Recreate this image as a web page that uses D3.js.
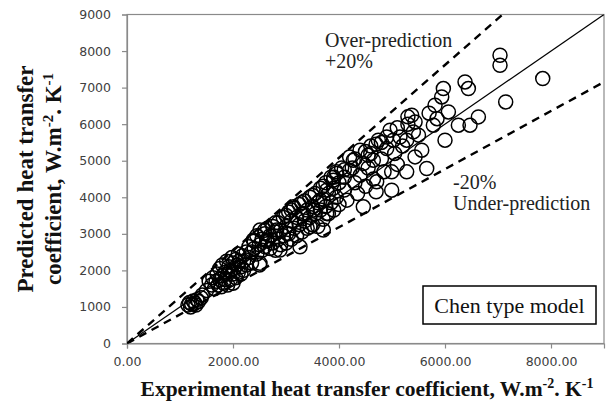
<!DOCTYPE html>
<html><head><meta charset="utf-8">
<script src="https://cdn.jsdelivr.net/npm/d3@7"></script>
<style>body{margin:0;background:#fff}</style>
</head><body>
<svg id="c" width="609" height="403"></svg>
<script>
const xTicks = [0, 2000, 4000, 6000, 8000];
const yTicks = [0, 1000, 2000, 3000, 4000, 5000, 6000, 7000, 8000, 9000];
const lineFactors = {perfect: 1, over: 1.27, under: 0.795};
const experimental = [
1150,1180,1220,1250,1280,1320,1350,1300,1200,1400,1420,
1500,1550,1600,1620,1650,1680,1700,1720,1750,1750,1780,1800,1800,1820,1850,1850,1880,1900,1900,1920,1950,1950,1980,2000,2000,2000,2020,2050,2050,2080,2100,2100,2120,2150,2150,2180,2200,2200,2250,2250,2300,2300,2350,2350,2400,2400,2450,2450,2500,2500,2550,2550,2600,2600,2650,2650,2700,2700,2750,2750,
2800,2800,2850,2850,2900,2900,2950,2950,3000,3000,3050,3050,3100,3100,3150,3150,3200,3200,3250,3250,3300,3300,3350,3350,3400,3400,3450,3450,3500,3500,3550,3550,3600,3600,3650,3650,3700,3700,3750,3750,3800,3800,3850,3850,3900,3900,3950,3950,4000,4000,
3264,2887,3013,3327,3138,2824,2636,2510,2384,2510,3453,3704,3516,3768,3642,3768,3893,3957,
4050,4100,4150,4200,4270,4300,4350,4397,4400,4459,4459,4500,4550,4600,4648,4650,4700,4711,4742,4800,4850,4900,4963,4994,4994,5025,5050,5100,5150,5200,5277,5277,5300,5372,5403,5435,5435,5500,5561,5655,4100,4250,4550,4800,
5780,5812,5938,5969,6000,6064,6252,6378,6441,6472,6630,7038,7038,7145,7844,5700,5850,
2600,2800,3000,3100,3300,3500,3700,3900,4100,4200,4300,4500,4600,4700,4900,5100,5300];
const predicted = [
1050,1120,1080,1160,1100,1200,1150,1050,1000,1250,1330,
1450,1700,1600,1800,1500,1700,1900,1600,1750,2050,1550,1850,2150,1650,1950,1750,2250,1600,1900,2100,1750,2000,2350,1650,1900,2200,2050,1800,2300,2150,1950,2450,2250,1900,2100,2400,2250,2000,2500,2150,2350,2650,2200,2500,2800,2600,2450,2950,2700,2150,2850,2550,3000,2650,2800,3150,2600,2950,3200,2750,
3050,2550,3300,2850,3100,2700,3450,2950,3200,2750,3600,3000,3350,2850,3700,3150,3450,2950,3800,3250,3550,3050,3900,3350,3650,3150,4000,3450,3750,3250,4100,3550,3850,3200,4250,3650,3950,3400,4400,3750,4100,3550,4550,3850,4250,3650,4700,4000,4400,3800,
2645,2555,3012,3558,3739,3102,2829,2192,2829,3102,3192,3102,3649,3558,3922,4195,4468,4652,
4800,4200,3922,4742,5015,4400,4100,5288,4600,4925,3739,4300,4800,5200,5015,4500,4150,4422,5562,5050,4700,5335,5835,4695,4195,5562,5200,4900,5650,5400,5562,4695,6000,6245,5789,6062,5105,5700,5288,4788,4550,4800,5150,5500,
5972,6518,6745,6974,5562,6335,5972,7155,6974,5972,6199,7885,7612,6609,7247,6300,6150,
3100,3300,3500,3650,3850,4050,4300,4550,4750,5100,5050,5250,5400,5450,5650,5900,6200];

const svg = d3.select('#c');
const m = {l:127, r:604, t:14.5, b:343.5};
const x = d3.scaleLinear().domain([0,9000]).range([m.l, m.r]);
const y = d3.scaleLinear().domain([0,9000]).range([m.b, m.t]);
const axisColor = '#8a8a8a';

svg.append('rect').attr('x',m.l).attr('y',m.t).attr('width',m.r-m.l).attr('height',m.b-m.t)
  .attr('fill','none').attr('stroke',axisColor).attr('stroke-width',1.2);

const xa = svg.append('g').attr('transform',`translate(0,${m.b})`)
  .call(d3.axisBottom(x).tickValues(xTicks).tickSize(5).tickPadding(9).tickFormat(d3.format('.2f')));
const ya = svg.append('g').attr('transform',`translate(${m.l},0)`)
  .call(d3.axisLeft(y).tickValues(yTicks).tickSize(5).tickPadding(11).tickFormat(d3.format('d')));
[xa,ya].forEach(a=>{
  a.select('.domain').attr('stroke',axisColor).attr('stroke-width',1.2);
  a.selectAll('.tick line').attr('stroke',axisColor).attr('stroke-width',1.2);
  a.selectAll('.tick text').attr('fill','#404040').style('font-family','DejaVu Sans').style('font-size','12.5px');
});

svg.append('clipPath').attr('id','pc').append('rect')
  .attr('x',m.l).attr('y',m.t).attr('width',m.r-m.l).attr('height',m.b-m.t);
const lg = svg.append('g').attr('clip-path','url(#pc)');
const lineEnd = f => { const xe = Math.min(9000, 9000/f); return [[0,0],[xe, xe*f]]; };
const line = d3.line().x(d=>x(d[0])).y(d=>y(d[1]));
lg.append('path').attr('d',line(lineEnd(lineFactors.perfect))).attr('stroke','#000').attr('stroke-width',1.2).attr('fill','none');
lg.append('path').attr('d',line(lineEnd(lineFactors.over))).attr('stroke','#000').attr('stroke-width',2.4).attr('stroke-dasharray','8,6').attr('fill','none');
lg.append('path').attr('d',line(lineEnd(lineFactors.under))).attr('stroke','#000').attr('stroke-width',2.4).attr('stroke-dasharray','8,6').attr('fill','none');

svg.append('g').selectAll('circle').data(experimental.map((v,i)=>[v,predicted[i]])).join('circle')
  .attr('cx',d=>x(d[0])).attr('cy',d=>y(d[1])).attr('r',7)
  .attr('fill','none').attr('stroke','#000').attr('stroke-width',1.5);

const serif = 'Liberation Serif, Times New Roman, serif';
const ann = svg.append('g').style('font-family',serif).style('font-size','20px').attr('fill','#222');
ann.append('text').attr('x',325).attr('y',47).text('Over-prediction');
ann.append('text').attr('x',325).attr('y',68).text('+20%');
ann.append('text').attr('x',453).attr('y',189).text('-20%');
ann.append('text').attr('x',453).attr('y',210).text('Under-prediction');

svg.append('rect').attr('x',423).attr('y',286).attr('width',173).attr('height',38)
  .attr('fill','#fff').attr('stroke','#000').attr('stroke-width',1.5);
svg.append('text').attr('x',509.5).attr('y',313).attr('text-anchor','middle')
  .style('font-family',serif).style('font-size','22px').attr('fill','#111').text('Chen type model');

const xt = svg.append('text').attr('x',367).attr('y',396).attr('text-anchor','middle')
  .style('font-family',serif).style('font-size','21.5px').style('font-weight','bold').attr('fill','#111');
xt.append('tspan').text('Experimental heat transfer coefficient, W.m');
xt.append('tspan').attr('dy',-8).style('font-size','14px').text('-2');
xt.append('tspan').attr('dy',8).text('. K');
xt.append('tspan').attr('dy',-8).style('font-size','14px').text('-1');

const yt = svg.append('g').attr('transform','translate(0,179) rotate(-90)')
  .style('font-family',serif).style('font-size','23px').style('font-weight','bold').attr('fill','#111');
yt.append('text').attr('x',0).attr('y',33).attr('text-anchor','middle').text('Predicted heat transfer');
const y2 = yt.append('text').attr('x',0).attr('y',61).attr('text-anchor','middle');
y2.append('tspan').text('coefficient, W.m');
y2.append('tspan').attr('dy',-8).style('font-size','15px').text('-2');
y2.append('tspan').attr('dy',8).text('. K');
y2.append('tspan').attr('dy',-8).style('font-size','15px').text('-1');
</script>
</body></html>
